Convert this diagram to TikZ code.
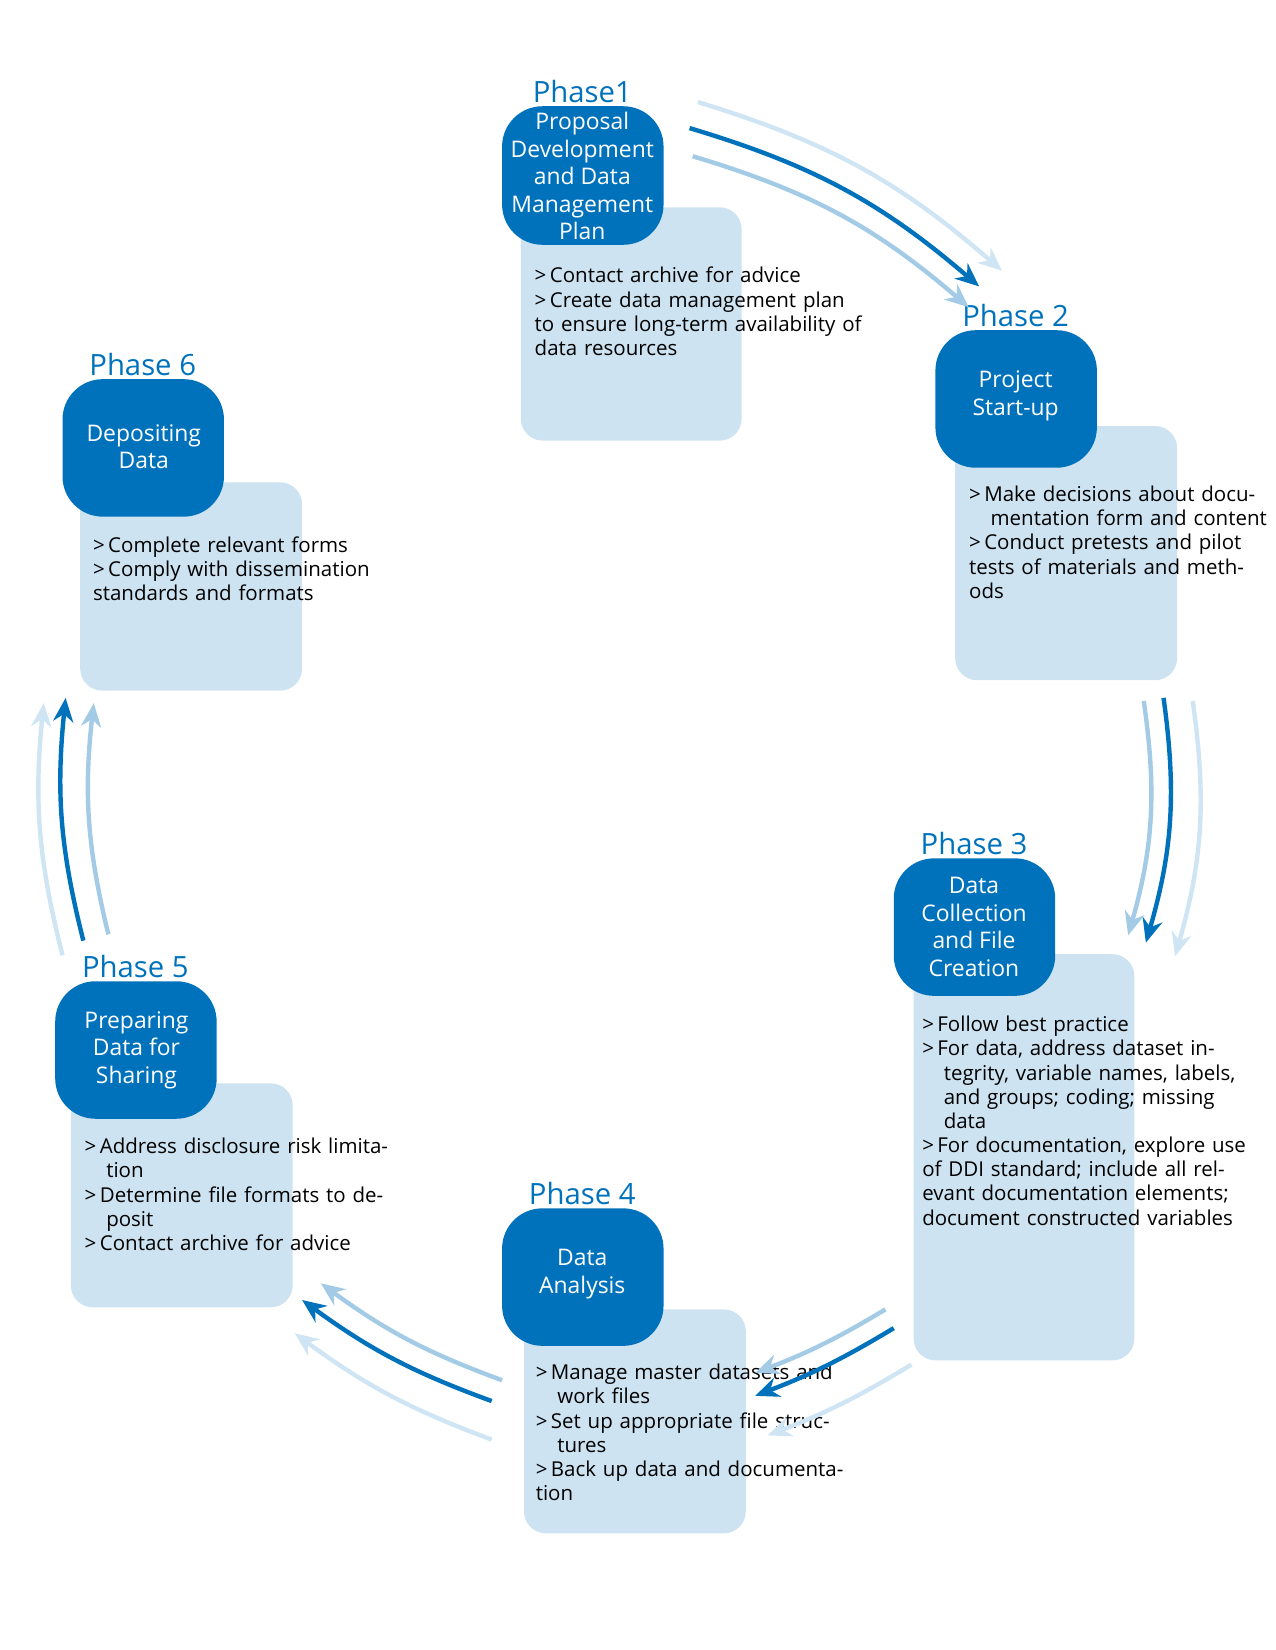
\documentclass[tikz,border=0pt]{standalone}
\usepackage{fontspec}
\setmainfont{Open Sans}
\usetikzlibrary{arrows.meta}
\definecolor{dk}{HTML}{0072BC}
\definecolor{lb}{HTML}{CDE3F1}
\definecolor{la}{HTML}{A3CBE6}
\definecolor{ll}{HTML}{CFE5F4}
\newcommand{\itm}[1]{\par\hangindent=1.05em\hangafter=1 >\,#1}
\tikzset{
 x=0.02cm,y=-0.02cm,
 dkbox/.style={fill=dk,rounded corners=22pt,inner sep=0pt,text=white,align=center,font=\fontsize{12.5}{15}\selectfont},
 ltbox/.style={fill=lb,rounded corners=12pt,inner sep=0pt},
 txt/.style={anchor=north west,align=left,inner sep=0pt,font=\fontsize{11.2}{13.2}\selectfont,text width=#1},
 ph/.style={text=dk,font=\fontsize{16}{18}\selectfont,inner sep=0pt},
 arr/.style={line width=2.4pt,-{Stealth[length=13pt,width=11pt]}},
 a1/.style={arr,draw=dk},
 a2/.style={arr,draw=la},
 a3/.style={arr,draw=ll},
}
\newcommand{\phase}[9]{%
 % #1 name, #2 dx1,#3 dy1,#4 dy2(dark bottom), #5 lx1,#6 lx2,#7 ly1,#8 ly2, #9 label
 \path[ltbox] (#5,#7) rectangle (#6,#8);
 \path[dkbox] (#2,#3) rectangle ++(155,#4);
 \node[ph] (#1lab) at ({#2+77},{#3-14}) {#9};
}
\begin{document}
\begin{tikzpicture}
\useasboundingbox (0,0) rectangle (1224,1584);
% Phase 1
\phase{p1}{482}{102}{133}{500}{712}{199}{423}{Phase1}
\node[dkbox,fill=none] (p1d) at (559,169) {Proposal\\Development\\and Data\\Management\\Plan};
\node[txt=180pt] (p1t) at (513,248) {\itm{Contact archive for advice}\itm{Create data management plan to ensure long-term availability of data resources}};
% Phase 2
\phase{p2}{898}{317}{132}{917}{1130}{409}{653}{Phase 2}
\node[dkbox,fill=none] (p2d) at (975,380) {Project\\Start-up};
\node[txt=165pt] (p2t) at (930,458) {\itm{Make decisions about documentation form and content}\itm{Conduct pretests and pilot tests of materials and methods}};
% Phase 3
\phase{p3}{858}{824}{132}{877}{1089}{916}{1306}{Phase 3}
\node[dkbox,fill=none] (p3d) at (935,890) {Data\\Collection\\and File\\Creation};
\node[txt=180pt] (p3t) at (885,967) {\itm{Follow best practice}\itm{For data, address dataset integrity, variable names, labels, and groups; coding; missing data}\itm{For documentation, explore use of DDI standard; include all relevant documentation elements; document constructed variables}};
% Phase 4
\phase{p4}{482}{1160}{132}{503}{716}{1257}{1472}{Phase 4}
\node[dkbox,fill=none] (p4d) at (559,1223) {Data\\Analysis};
\node[txt=180pt] (p4t) at (514,1301) {\itm{Manage master datasets and work files}\itm{Set up appropriate file structures}\itm{Back up data and documentation}};
% Phase 5
\phase{p5}{53}{942}{132}{68}{281}{1040}{1255}{Phase 5}
\node[dkbox,fill=none] (p5d) at (131,1008) {Preparing\\Data for\\Sharing};
\node[txt=180pt] (p5t) at (81,1084) {\itm{Address disclosure risk limitation}\itm{Determine file formats to deposit}\itm{Contact archive for advice}};
% Phase 6
\phase{p6}{60}{364}{132}{77}{290}{463}{663}{Phase 6}
\node[dkbox,fill=none] (p6d) at (138,429) {Depositing\\Data};
\node[txt=180pt] (p6t) at (89,507) {\itm{Complete relevant forms}\itm{Comply with dissemination standards and formats}};
% arrows 1->2
\coordinate (a1s) at (662,123); \coordinate (a1e) at (940,275);
\coordinate (b1s) at (665,150); \coordinate (b1e) at (930,295);
\coordinate (c1s) at (670,98);  \coordinate (c1e) at (962,260);
\draw[a3] (c1s) to[bend left=12] (c1e);
\draw[a2] (b1s) to[bend left=12] (b1e);
\draw[a1] (a1s) to[bend left=12] (a1e);
% 2->3
\coordinate (a2s) at (1117,670); \coordinate (a2e) at (1100,905);
\coordinate (b2s) at (1098,673); \coordinate (b2e) at (1083,898);
\coordinate (c2s) at (1145,673); \coordinate (c2e) at (1128,918);
\draw[a3] (c2s) to[bend left=12] (c2e);
\draw[a2] (b2s) to[bend left=12] (b2e);
\draw[a1] (a2s) to[bend left=12] (a2e);
% 3->4
\coordinate (a3s) at (858,1275); \coordinate (a3e) at (725,1340);
\coordinate (b3s) at (850,1257); \coordinate (b3e) at (725,1318);
\coordinate (c3s) at (875,1310); \coordinate (c3e) at (737,1378);
\draw[a3] (c3s) to[bend left=5] (c3e);
\draw[a2] (b3s) to[bend left=5] (b3e);
\draw[a1] (a3s) to[bend left=5] (a3e);
% 4->5
\coordinate (a4s) at (472,1345); \coordinate (a4e) at (290,1248);
\coordinate (b4s) at (482,1325); \coordinate (b4e) at (308,1232);
\coordinate (c4s) at (472,1382); \coordinate (c4e) at (283,1280);
\draw[a3] (c4s) to[bend left=8] (c4e);
\draw[a2] (b4s) to[bend left=8] (b4e);
\draw[a1] (a4s) to[bend left=8] (a4e);
% 5->6
\coordinate (a5s) at (80,903); \coordinate (a5e) at (63,670);
\coordinate (b5s) at (104,897); \coordinate (b5e) at (90,675);
\coordinate (c5s) at (60,917); \coordinate (c5e) at (42,675);
\draw[a3] (c5s) to[bend left=10] (c5e);
\draw[a2] (b5s) to[bend left=10] (b5e);
\draw[a1] (a5s) to[bend left=10] (a5e);
\end{tikzpicture}
\end{document}
